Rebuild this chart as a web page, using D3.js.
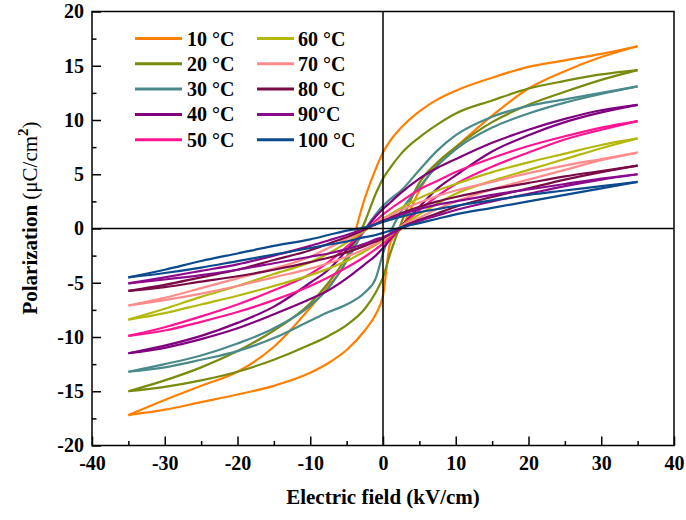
<!DOCTYPE html>
<html><head><meta charset="utf-8">
<script src="https://cdn.jsdelivr.net/npm/d3@7/dist/d3.min.js"></script>
<style>
body{margin:0;background:#fff;}
text{font-family:"Liberation Serif","Times New Roman",serif;font-weight:bold;fill:#000;}
</style></head><body>
<svg id="c" width="686" height="520"></svg>
<script>
const E = [-35,-30,-25,-20,-15,-10,-7.5,-5,-2.5,-1,0,1,2.5,5,7.5,10,15,20,25,30,35];
const labels = ["10 °C","20 °C","30 °C","40 °C","50 °C","60 °C","70 °C","80 °C","90°C","100 °C"];
const colors = ["#ff8000","#7a8a0c","#4a8a8a","#800080","#ff1493","#b4b80a","#ff8c8c","#7a0a45","#8b0a8b","#0b4a8c"];
// upper branch (field decreasing) and lower branch (field increasing), P values at E
const up10 = [-17.2,-15.8,-14.5,-13.2,-10.9,-7.3,-5.3,-2.9,2.8,5.5,7.0,8.1,9.3,10.8,11.9,12.7,13.9,14.9,15.5,16.1,16.8];
const lo10 = [-17.2,-16.7,-16.0,-15.3,-14.5,-13.3,-12.4,-11.2,-9.4,-7.9,-6.2,-1.3,0.0,3.5,6.0,7.5,10.4,12.9,14.5,15.8,16.8];
const up20 = [-15.0,-14.0,-12.8,-11.3,-9.4,-6.9,-5.0,-2.6,0.6,3.2,4.6,5.6,6.9,8.4,9.6,10.6,11.8,12.9,13.6,14.2,14.6];
const lo20 = [-15.0,-14.6,-14.0,-13.2,-12.1,-10.7,-9.9,-8.9,-7.4,-5.9,-4.5,-2.3,0.5,4.2,6.1,7.5,9.8,11.4,12.6,13.7,14.6];
const up30 = [-13.2,-12.5,-11.7,-10.6,-9.2,-7.1,-5.5,-3.0,-0.1,1.3,2.1,2.7,3.5,5.4,7.2,8.6,10.3,11.3,11.9,12.5,13.1];
const lo30 = [-13.2,-12.8,-12.1,-11.3,-10.1,-8.5,-7.7,-7.0,-5.9,-4.6,-2.3,-0.4,1.6,3.8,5.8,7.3,9.3,10.6,11.6,12.4,13.1];
const up40 = [-11.5,-10.8,-9.9,-8.7,-7.2,-5.0,-3.8,-2.0,-0.1,1.1,1.8,2.4,3.3,4.6,5.6,6.4,7.9,9.1,10.1,10.9,11.4];
const lo40 = [-11.5,-11.0,-10.2,-9.2,-7.9,-6.5,-5.7,-4.6,-3.3,-2.5,-1.8,-1.0,0.2,2.0,3.7,4.9,7.1,8.6,9.8,10.7,11.4];
const up50 = [-9.9,-9.1,-8.1,-7.0,-5.7,-4.2,-3.1,-1.7,-0.2,0.7,1.3,1.8,2.5,3.6,4.4,5.2,6.5,7.6,8.5,9.3,9.9];
const lo50 = [-9.9,-9.4,-8.6,-7.7,-6.6,-5.3,-4.5,-3.6,-2.6,-1.9,-1.4,-0.8,0.2,1.7,3.0,4.1,5.7,7.0,8.2,9.1,9.9];
const up60 = [-8.4,-7.4,-6.3,-5.3,-4.2,-3.1,-2.3,-1.3,-0.2,0.5,0.9,1.3,1.9,2.8,3.5,4.1,5.2,6.1,6.9,7.7,8.3];
const lo60 = [-8.4,-7.8,-7.0,-6.2,-5.3,-4.3,-3.7,-3.0,-2.1,-1.5,-1.1,-0.6,0.2,1.3,2.3,3.2,4.4,5.4,6.4,7.4,8.3];
const up70 = [-7.1,-6.4,-5.5,-4.6,-3.7,-2.6,-1.8,-1.0,-0.1,0.5,0.9,1.2,1.7,2.4,3.0,3.5,4.3,5.1,5.8,6.4,7.0];
const lo70 = [-7.1,-6.6,-6.0,-5.3,-4.5,-3.7,-3.2,-2.6,-1.9,-1.4,-1.0,-0.5,0.2,1.0,1.8,2.5,3.6,4.5,5.4,6.3,7.0];
const up80 = [-5.75,-5.2,-4.5,-3.8,-2.9,-2.0,-1.4,-0.8,-0.1,0.4,0.7,1.0,1.4,2.0,2.5,2.9,3.6,4.2,4.8,5.3,5.8];
const lo80 = [-5.75,-5.4,-4.9,-4.4,-3.8,-3.1,-2.7,-2.2,-1.6,-1.2,-0.9,-0.5,0.1,0.8,1.4,2.0,2.9,3.7,4.5,5.2,5.8];
const up90 = [-5.05,-4.5,-3.9,-3.3,-2.5,-1.6,-1.1,-0.6,0.0,0.4,0.7,0.9,1.3,1.8,2.2,2.5,3.1,3.6,4.1,4.6,5.0];
const lo90 = [-5.05,-4.7,-4.3,-3.8,-3.2,-2.6,-2.3,-1.9,-1.4,-1.0,-0.8,-0.5,0.0,0.7,1.2,1.7,2.5,3.2,3.9,4.5,5.0];
const up100 = [-4.5,-3.8,-3.0,-2.3,-1.6,-1.0,-0.6,-0.2,0.1,0.4,0.6,0.8,1.1,1.5,1.8,2.1,2.6,3.1,3.5,3.9,4.3];
const lo100 = [-4.5,-4.1,-3.6,-3.0,-2.4,-1.8,-1.5,-1.2,-0.8,-0.6,-0.4,-0.2,0.1,0.5,0.9,1.3,1.9,2.5,3.1,3.7,4.3];
const uppers = [up10,up20,up30,up40,up50,up60,up70,up80,up90,up100];
const lowers = [lo10,lo20,lo30,lo40,lo50,lo60,lo70,lo80,lo90,lo100];
const xTicks = [-40,-30,-20,-10,0,10,20,30,40];
const yTicks = [-20,-15,-10,-5,0,5,10,15,20];

const svg = d3.select("#c");
const L=92, R=674, T=11.5, B=445.5;
const x = d3.scaleLinear().domain([-40,40]).range([L,R]);
const y = d3.scaleLinear().domain([-20,20]).range([B,T]);

// axes with inward ticks
const xMinor = d3.range(-35,40,10);
const yMinor = d3.range(-17.5,20,5);
svg.append("g").attr("transform",`translate(0,${B})`)
  .call(d3.axisBottom(x).tickValues(xMinor).tickSize(-4.5).tickFormat(""))
  .call(g=>g.select(".domain").remove()).selectAll("line").attr("stroke","#000").attr("stroke-width",1.5);
const gx = svg.append("g").attr("transform",`translate(0,${B})`)
  .call(d3.axisBottom(x).tickValues(xTicks).tickSize(-9).tickPadding(10).tickFormat(d3.format("d")));
gx.select(".domain").remove();
gx.selectAll("line").attr("stroke","#000").attr("stroke-width",1.5);
gx.selectAll("text").attr("font-size",20).attr("font-family","Liberation Serif").attr("font-weight","bold").attr("fill","#000")
  .text(d=>d<0?"-"+Math.abs(d):d);

svg.append("g").attr("transform",`translate(${L},0)`)
  .call(d3.axisLeft(y).tickValues(yMinor).tickSize(-4.5).tickFormat(""))
  .call(g=>g.select(".domain").remove()).selectAll("line").attr("stroke","#000").attr("stroke-width",1.5);
const gy = svg.append("g").attr("transform",`translate(${L},0)`)
  .call(d3.axisLeft(y).tickValues(yTicks).tickSize(-9).tickPadding(8));
gy.select(".domain").remove();
gy.selectAll("line").attr("stroke","#000").attr("stroke-width",1.5);
gy.selectAll("text").attr("font-size",20).attr("font-family","Liberation Serif").attr("font-weight","bold").attr("fill","#000")
  .text(d=>d<0?"-"+Math.abs(d):d);

// curves
const line = d3.line().x(d=>x(d[0])).y(d=>y(d[1])).curve(d3.curveMonotoneX);
const plot = svg.append("g");
uppers.forEach((u,i)=>{
  const lo = lowers[i];
  [u,lo].forEach(arr=>{
    plot.append("path").datum(E.map((e,k)=>[e,arr[k]]))
      .attr("d",line).attr("fill","none").attr("stroke",colors[i]).attr("stroke-width",2.2).attr("stroke-linejoin","round");
  });
});

// zero lines and frame
svg.append("line").attr("x1",x(0)).attr("x2",x(0)).attr("y1",T).attr("y2",B).attr("stroke","#000").attr("stroke-width",1.5);
svg.append("line").attr("x1",L).attr("x2",R).attr("y1",y(0)).attr("y2",y(0)).attr("stroke","#000").attr("stroke-width",1.5);
svg.append("rect").attr("x",L).attr("y",T).attr("width",R-L).attr("height",B-T).attr("fill","none").attr("stroke","#000").attr("stroke-width",1.5);

// legend
const leg = svg.append("g");
labels.forEach((lab,i)=>{
  const col = Math.floor(i/5), row = i%5;
  const lx = col===0?135:257, tx = col===0?187:298;
  const ly = 38.5 + row*25.3;
  leg.append("line").attr("x1",lx).attr("x2",lx+(col===0?47:37)).attr("y1",ly).attr("y2",ly).attr("stroke",colors[i]).attr("stroke-width",3);
  leg.append("text").attr("x",tx).attr("y",ly).attr("dy","0.35em").attr("font-size",20).text(lab);
});

// axis titles
svg.append("text").attr("x",(L+R)/2).attr("y",504).attr("text-anchor","middle").attr("font-size",21).text("Electric field (kV/cm)");
const yt = svg.append("text").attr("transform","translate(37,218) rotate(-90)").attr("text-anchor","middle").attr("font-size",21);
yt.append("tspan").text("Polarization ");
yt.append("tspan").attr("font-weight","normal").text("(μC/cm");
yt.append("tspan").attr("dy",-9).attr("font-size",15).text("2");
yt.append("tspan").attr("dy",9).attr("font-weight","normal").text(")");
</script></body></html>
